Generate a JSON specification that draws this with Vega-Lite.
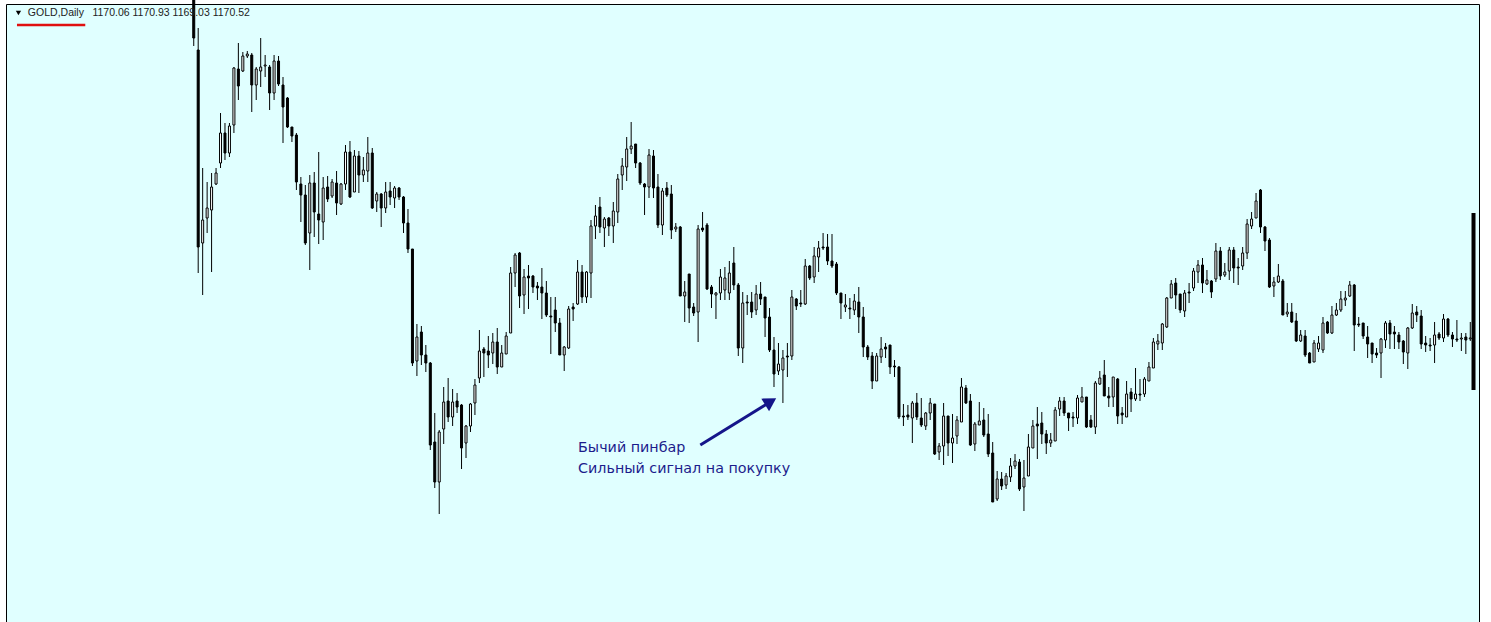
{
"$schema":"https://vega.github.io/schema/vega-lite/v6.json",
"width":1473,"height":622,
"autosize":{"type":"none"},
"padding":{"left":6,"top":4,"right":12,"bottom":0},
"background":"#ffffff",
"config":{"view":{"fill":"#E0FFFF","stroke":"#000000","strokeWidth":1},"axis":{"ticks":true}},
"datasets":{
"candles":[
{"i":0,"o":1341,"h":1343,"l":1316.5,"c":1320.5},
{"i":1,"o":1314.5,"h":1325.5,"l":1203,"c":1216},
{"i":2,"o":1218,"h":1255.5,"l":1192,"c":1229.5},
{"i":3,"o":1230.5,"h":1248.5,"l":1223,"c":1235.5},
{"i":4,"o":1234.5,"h":1253,"l":1203.5,"c":1246},
{"i":5,"o":1247.5,"h":1255.5,"l":1247,"c":1253},
{"i":6,"o":1258,"h":1283,"l":1255.5,"c":1273},
{"i":7,"o":1273,"h":1278,"l":1259.5,"c":1263},
{"i":8,"o":1263,"h":1278,"l":1261,"c":1276.5},
{"i":9,"o":1277,"h":1306,"l":1273,"c":1305.5},
{"i":10,"o":1305,"h":1318,"l":1289.5,"c":1296.5},
{"i":11,"o":1304,"h":1313.5,"l":1303.5,"c":1311.5},
{"i":12,"o":1311.5,"h":1314,"l":1310.5,"c":1312.5},
{"i":13,"o":1312,"h":1313,"l":1283.5,"c":1297},
{"i":14,"o":1297,"h":1306,"l":1289.5,"c":1305},
{"i":15,"o":1304,"h":1320.5,"l":1296,"c":1306},
{"i":16,"o":1306.5,"h":1312,"l":1301,"c":1307},
{"i":17,"o":1306,"h":1307,"l":1284.5,"c":1293},
{"i":18,"o":1293,"h":1312,"l":1289.5,"c":1309},
{"i":19,"o":1309,"h":1311.5,"l":1296.5,"c":1297.5},
{"i":20,"o":1297,"h":1301,"l":1268,"c":1286},
{"i":21,"o":1290.5,"h":1291,"l":1275.5,"c":1276},
{"i":22,"o":1276,"h":1276,"l":1268.5,"c":1271.5},
{"i":23,"o":1272,"h":1273,"l":1244.5,"c":1248.5},
{"i":24,"o":1247.5,"h":1251,"l":1228.5,"c":1242},
{"i":25,"o":1242,"h":1247,"l":1217,"c":1218},
{"i":26,"o":1223,"h":1252,"l":1204.5,"c":1248},
{"i":27,"o":1248,"h":1253.5,"l":1221,"c":1233.5},
{"i":28,"o":1232.5,"h":1263.5,"l":1217.5,"c":1229.5},
{"i":29,"o":1228.5,"h":1251,"l":1219.5,"c":1245.5},
{"i":30,"o":1246,"h":1251.5,"l":1238.5,"c":1240},
{"i":31,"o":1241.5,"h":1250,"l":1240.5,"c":1248.5},
{"i":32,"o":1248,"h":1254,"l":1232,"c":1238},
{"i":33,"o":1237.5,"h":1248,"l":1237,"c":1247.5},
{"i":34,"o":1247.5,"h":1267,"l":1244.5,"c":1263.5},
{"i":35,"o":1263.5,"h":1269,"l":1240.5,"c":1241},
{"i":36,"o":1243.5,"h":1264.5,"l":1243.5,"c":1261.5},
{"i":37,"o":1261.5,"h":1264,"l":1243,"c":1252},
{"i":38,"o":1252,"h":1261,"l":1248.5,"c":1254.5},
{"i":39,"o":1254,"h":1271,"l":1248.5,"c":1263},
{"i":40,"o":1263,"h":1265.5,"l":1235,"c":1235.5},
{"i":41,"o":1239,"h":1243.5,"l":1233.5,"c":1242.5},
{"i":42,"o":1242.5,"h":1243,"l":1226,"c":1235.5},
{"i":43,"o":1235.5,"h":1248.5,"l":1233,"c":1243.5},
{"i":44,"o":1244,"h":1248.5,"l":1237,"c":1241},
{"i":45,"o":1240.5,"h":1246.5,"l":1235.5,"c":1245.5},
{"i":46,"o":1245.5,"h":1246,"l":1239.5,"c":1241},
{"i":47,"o":1241,"h":1241.5,"l":1223,"c":1228},
{"i":48,"o":1228,"h":1235,"l":1213,"c":1215},
{"i":49,"o":1215,"h":1215,"l":1156.5,"c":1158},
{"i":50,"o":1159,"h":1177.5,"l":1151.5,"c":1171},
{"i":51,"o":1173.5,"h":1176.5,"l":1157,"c":1162},
{"i":52,"o":1162,"h":1167,"l":1153.5,"c":1158},
{"i":53,"o":1158,"h":1158.5,"l":1114.5,"c":1117},
{"i":54,"o":1118.5,"h":1133,"l":1095.5,"c":1098.5},
{"i":55,"o":1098.5,"h":1124.5,"l":1082.5,"c":1123.5},
{"i":56,"o":1125,"h":1146,"l":1117.5,"c":1138.5},
{"i":57,"o":1139,"h":1150.5,"l":1128.5,"c":1131},
{"i":58,"o":1131,"h":1145,"l":1126.5,"c":1138.5},
{"i":59,"o":1139,"h":1143,"l":1133,"c":1136},
{"i":60,"o":1137,"h":1137.5,"l":1105,"c":1115.5},
{"i":61,"o":1118,"h":1127,"l":1110.5,"c":1126.5},
{"i":62,"o":1126.5,"h":1138,"l":1123.5,"c":1137.5},
{"i":63,"o":1138,"h":1150,"l":1132,"c":1147},
{"i":64,"o":1150.5,"h":1174.5,"l":1148,"c":1164},
{"i":65,"o":1165,"h":1166,"l":1151,"c":1163},
{"i":66,"o":1164,"h":1171.5,"l":1155.5,"c":1162},
{"i":67,"o":1163,"h":1173,"l":1157.5,"c":1168.5},
{"i":68,"o":1168.5,"h":1175.5,"l":1152.5,"c":1156},
{"i":69,"o":1156,"h":1167,"l":1156,"c":1163},
{"i":70,"o":1162.5,"h":1173.5,"l":1162.5,"c":1171.5},
{"i":71,"o":1173,"h":1206,"l":1173,"c":1203},
{"i":72,"o":1203,"h":1213,"l":1196,"c":1212},
{"i":73,"o":1213,"h":1213.5,"l":1185.5,"c":1191.5},
{"i":74,"o":1192,"h":1205,"l":1182.5,"c":1201},
{"i":75,"o":1201.5,"h":1207,"l":1185,"c":1200.5},
{"i":76,"o":1201.5,"h":1202,"l":1193,"c":1196},
{"i":77,"o":1196.5,"h":1198.5,"l":1189.5,"c":1195.5},
{"i":78,"o":1196,"h":1205.5,"l":1180,"c":1193},
{"i":79,"o":1193,"h":1199,"l":1181,"c":1182},
{"i":80,"o":1181.5,"h":1191,"l":1162.5,"c":1181},
{"i":81,"o":1184.5,"h":1191,"l":1173.5,"c":1178},
{"i":82,"o":1178,"h":1180.5,"l":1162,"c":1162},
{"i":83,"o":1162,"h":1166.5,"l":1154,"c":1166},
{"i":84,"o":1165.5,"h":1186.5,"l":1165,"c":1185},
{"i":85,"o":1186,"h":1188,"l":1179,"c":1185},
{"i":86,"o":1187.5,"h":1209.5,"l":1187,"c":1203.5},
{"i":87,"o":1203.5,"h":1207,"l":1188,"c":1191},
{"i":88,"o":1191,"h":1204,"l":1188,"c":1203.5},
{"i":89,"o":1203,"h":1229.5,"l":1190.5,"c":1226.5},
{"i":90,"o":1226.5,"h":1237,"l":1220,"c":1231.5},
{"i":91,"o":1236,"h":1241,"l":1223,"c":1226},
{"i":92,"o":1225.5,"h":1231,"l":1216,"c":1230},
{"i":93,"o":1230.5,"h":1231,"l":1221.5,"c":1226.5},
{"i":94,"o":1226.5,"h":1238.5,"l":1218,"c":1234},
{"i":95,"o":1233.5,"h":1252.5,"l":1228,"c":1250},
{"i":96,"o":1252,"h":1260.5,"l":1244.5,"c":1256.5},
{"i":97,"o":1256,"h":1271,"l":1249,"c":1265},
{"i":98,"o":1265,"h":1278.5,"l":1262.5,"c":1266.5},
{"i":99,"o":1267.5,"h":1267.5,"l":1255.5,"c":1258},
{"i":100,"o":1258,"h":1258.5,"l":1247,"c":1248},
{"i":101,"o":1247.5,"h":1248,"l":1232,"c":1246},
{"i":102,"o":1246,"h":1265,"l":1240.5,"c":1262},
{"i":103,"o":1261.5,"h":1264.5,"l":1240.5,"c":1245.5},
{"i":104,"o":1246,"h":1252.5,"l":1225.5,"c":1227},
{"i":105,"o":1227,"h":1245.5,"l":1222,"c":1244},
{"i":106,"o":1245.5,"h":1248.5,"l":1241,"c":1242},
{"i":107,"o":1242.5,"h":1247,"l":1220,"c":1224.5},
{"i":108,"o":1225,"h":1228,"l":1223.5,"c":1226},
{"i":109,"o":1226,"h":1226.5,"l":1191.5,"c":1191.5},
{"i":110,"o":1191.5,"h":1199,"l":1178.5,"c":1193.5},
{"i":111,"o":1202.5,"h":1202.5,"l":1178,"c":1185.5},
{"i":112,"o":1186,"h":1188,"l":1181.5,"c":1183},
{"i":113,"o":1183.5,"h":1227,"l":1168.5,"c":1225},
{"i":114,"o":1225.5,"h":1233.5,"l":1223.5,"c":1224.5},
{"i":115,"o":1227,"h":1228,"l":1194.5,"c":1195},
{"i":116,"o":1196,"h":1197,"l":1185.5,"c":1192.5},
{"i":117,"o":1192,"h":1193.5,"l":1180,"c":1193},
{"i":118,"o":1193,"h":1205,"l":1189.5,"c":1201},
{"i":119,"o":1194.5,"h":1206,"l":1189.5,"c":1200.5},
{"i":120,"o":1193,"h":1209,"l":1189.5,"c":1203},
{"i":121,"o":1208,"h":1216,"l":1194.5,"c":1197},
{"i":122,"o":1197,"h":1198,"l":1161.5,"c":1165.5},
{"i":123,"o":1165.5,"h":1193.5,"l":1158,"c":1188},
{"i":124,"o":1188.5,"h":1192,"l":1182,"c":1188},
{"i":125,"o":1188.5,"h":1193.5,"l":1180.5,"c":1183.5},
{"i":126,"o":1184.5,"h":1197,"l":1182,"c":1192.5},
{"i":127,"o":1192.5,"h":1198.5,"l":1187,"c":1190},
{"i":128,"o":1191,"h":1191,"l":1171,"c":1180.5},
{"i":129,"o":1181,"h":1185.5,"l":1163.5,"c":1164.5},
{"i":130,"o":1164.5,"h":1171,"l":1146,"c":1152.5},
{"i":131,"o":1154,"h":1168,"l":1152,"c":1157.5},
{"i":132,"o":1154.5,"h":1164.5,"l":1138,"c":1160.5},
{"i":133,"o":1161.5,"h":1168,"l":1151,"c":1161},
{"i":134,"o":1161.5,"h":1194.5,"l":1159.5,"c":1191},
{"i":135,"o":1190,"h":1190.5,"l":1184.5,"c":1186.5},
{"i":136,"o":1188,"h":1194.5,"l":1186,"c":1187.5},
{"i":137,"o":1187.5,"h":1210,"l":1187,"c":1206.5},
{"i":138,"o":1206.5,"h":1207,"l":1199.5,"c":1200.5},
{"i":139,"o":1201,"h":1216,"l":1198,"c":1211.5},
{"i":140,"o":1211,"h":1219,"l":1203.5,"c":1215.5},
{"i":141,"o":1216,"h":1223,"l":1214.5,"c":1215.5},
{"i":142,"o":1216,"h":1222.5,"l":1207,"c":1209},
{"i":143,"o":1209,"h":1222.5,"l":1205.5,"c":1206.5},
{"i":144,"o":1207.5,"h":1208.5,"l":1192,"c":1193},
{"i":145,"o":1193,"h":1193,"l":1180,"c":1188},
{"i":146,"o":1186,"h":1192.5,"l":1183.5,"c":1187},
{"i":147,"o":1185.5,"h":1190.5,"l":1180,"c":1185},
{"i":148,"o":1184.5,"h":1192.5,"l":1182,"c":1189},
{"i":149,"o":1188.5,"h":1196,"l":1173,"c":1181},
{"i":150,"o":1181,"h":1186,"l":1161,"c":1166},
{"i":151,"o":1166,"h":1167,"l":1159.5,"c":1161},
{"i":152,"o":1161.5,"h":1163.5,"l":1145,"c":1149},
{"i":153,"o":1149,"h":1163,"l":1149,"c":1161.5},
{"i":154,"o":1161,"h":1171,"l":1158,"c":1165},
{"i":155,"o":1166,"h":1168,"l":1160.5,"c":1165},
{"i":156,"o":1167,"h":1167,"l":1152.5,"c":1156},
{"i":157,"o":1156.5,"h":1159.5,"l":1151,"c":1156},
{"i":158,"o":1156,"h":1156.5,"l":1130,"c":1131},
{"i":159,"o":1131.5,"h":1137.5,"l":1126.5,"c":1131},
{"i":160,"o":1132,"h":1137,"l":1129.5,"c":1131},
{"i":161,"o":1130.5,"h":1139,"l":1118,"c":1138},
{"i":162,"o":1138,"h":1143,"l":1129.5,"c":1131},
{"i":163,"o":1130.5,"h":1140.5,"l":1126,"c":1127},
{"i":164,"o":1126.5,"h":1133.5,"l":1124.5,"c":1133},
{"i":165,"o":1133,"h":1140.5,"l":1129.5,"c":1138},
{"i":166,"o":1137.5,"h":1137.5,"l":1112,"c":1112.5},
{"i":167,"o":1113.5,"h":1118,"l":1109.5,"c":1116.5},
{"i":168,"o":1116.5,"h":1138,"l":1107,"c":1131.5},
{"i":169,"o":1131.5,"h":1131.5,"l":1111.5,"c":1118},
{"i":170,"o":1118,"h":1132.5,"l":1108,"c":1120.5},
{"i":171,"o":1121.5,"h":1131.5,"l":1117.5,"c":1129.5},
{"i":172,"o":1128.5,"h":1150.5,"l":1128.5,"c":1146},
{"i":173,"o":1145.5,"h":1147,"l":1137.5,"c":1138},
{"i":174,"o":1139,"h":1142.5,"l":1116.5,"c":1117},
{"i":175,"o":1117.5,"h":1128.5,"l":1114,"c":1127.5},
{"i":176,"o":1127,"h":1138.5,"l":1127,"c":1129},
{"i":177,"o":1129.5,"h":1135.5,"l":1121,"c":1122},
{"i":178,"o":1122.5,"h":1132.5,"l":1111,"c":1112.5},
{"i":179,"o":1113,"h":1118.5,"l":1088.5,"c":1088.5},
{"i":180,"o":1090,"h":1104,"l":1089,"c":1100},
{"i":181,"o":1100,"h":1103.5,"l":1094.5,"c":1096.5},
{"i":182,"o":1097,"h":1103,"l":1095,"c":1101.5},
{"i":183,"o":1101,"h":1110.5,"l":1098.5,"c":1106.5},
{"i":184,"o":1106.5,"h":1112.5,"l":1105,"c":1109},
{"i":185,"o":1108.5,"h":1110,"l":1094,"c":1095},
{"i":186,"o":1096,"h":1109.5,"l":1084,"c":1100.5},
{"i":187,"o":1101.5,"h":1122.5,"l":1101.5,"c":1116},
{"i":188,"o":1115.5,"h":1129.5,"l":1115.5,"c":1126.5},
{"i":189,"o":1127.5,"h":1136,"l":1110,"c":1126.5},
{"i":190,"o":1128,"h":1133.5,"l":1117.5,"c":1122.5},
{"i":191,"o":1122.5,"h":1124.5,"l":1112.5,"c":1118},
{"i":192,"o":1118,"h":1123,"l":1116,"c":1119.5},
{"i":193,"o":1119,"h":1136,"l":1119,"c":1134.5},
{"i":194,"o":1135,"h":1141,"l":1131.5,"c":1139},
{"i":195,"o":1139,"h":1141,"l":1131.5,"c":1133},
{"i":196,"o":1133,"h":1133,"l":1124,"c":1130.5},
{"i":197,"o":1131,"h":1133.5,"l":1126,"c":1130.5},
{"i":198,"o":1130.5,"h":1142,"l":1127.5,"c":1140.5},
{"i":199,"o":1138.5,"h":1146,"l":1138.5,"c":1141},
{"i":200,"o":1141,"h":1141,"l":1125.5,"c":1126},
{"i":201,"o":1129.5,"h":1132,"l":1125.5,"c":1126},
{"i":202,"o":1126,"h":1149,"l":1122.5,"c":1148},
{"i":203,"o":1147.5,"h":1154,"l":1147,"c":1150.5},
{"i":204,"o":1152,"h":1159.5,"l":1141.5,"c":1141.5},
{"i":205,"o":1141.5,"h":1146,"l":1136,"c":1140.5},
{"i":206,"o":1141,"h":1151,"l":1136,"c":1151},
{"i":207,"o":1150,"h":1150.5,"l":1127.5,"c":1131.5},
{"i":208,"o":1133,"h":1136,"l":1127.5,"c":1132},
{"i":209,"o":1131,"h":1149,"l":1131,"c":1142.5},
{"i":210,"o":1143.5,"h":1145.5,"l":1133.5,"c":1140},
{"i":211,"o":1140,"h":1155.5,"l":1139,"c":1142.5},
{"i":212,"o":1142.5,"h":1150,"l":1139,"c":1142},
{"i":213,"o":1142.5,"h":1151,"l":1141,"c":1150},
{"i":214,"o":1149,"h":1158.5,"l":1149,"c":1156},
{"i":215,"o":1155.5,"h":1170.5,"l":1155.5,"c":1168.5},
{"i":216,"o":1167.5,"h":1172.5,"l":1164.5,"c":1169},
{"i":217,"o":1168,"h":1178,"l":1164.5,"c":1177.5},
{"i":218,"o":1176,"h":1191,"l":1175.5,"c":1190.5},
{"i":219,"o":1190.5,"h":1199.5,"l":1190.5,"c":1197.5},
{"i":220,"o":1198,"h":1200.5,"l":1185,"c":1192},
{"i":221,"o":1192.5,"h":1192.5,"l":1183,"c":1184.5},
{"i":222,"o":1184,"h":1194.5,"l":1181,"c":1193},
{"i":223,"o":1193.5,"h":1198,"l":1188,"c":1193},
{"i":224,"o":1195.5,"h":1205.5,"l":1194,"c":1204},
{"i":225,"o":1203.5,"h":1209.5,"l":1198,"c":1207},
{"i":226,"o":1207,"h":1210.5,"l":1193,"c":1198},
{"i":227,"o":1197.5,"h":1204.5,"l":1197,"c":1199.5},
{"i":228,"o":1199,"h":1199.5,"l":1190.5,"c":1193.5},
{"i":229,"o":1200,"h":1218,"l":1198.5,"c":1214},
{"i":230,"o":1214,"h":1216,"l":1199.5,"c":1201.5},
{"i":231,"o":1202,"h":1208,"l":1201,"c":1203.5},
{"i":232,"o":1204,"h":1216,"l":1199.5,"c":1214.5},
{"i":233,"o":1214.5,"h":1216,"l":1198,"c":1205.5},
{"i":234,"o":1206,"h":1210.5,"l":1197,"c":1205.5},
{"i":235,"o":1206.5,"h":1216,"l":1204.5,"c":1213},
{"i":236,"o":1213,"h":1230,"l":1210,"c":1227.5},
{"i":237,"o":1226.5,"h":1233.5,"l":1225,"c":1230},
{"i":238,"o":1230.5,"h":1243,"l":1230.5,"c":1239},
{"i":239,"o":1244.5,"h":1245,"l":1223,"c":1226},
{"i":240,"o":1226,"h":1226.5,"l":1214,"c":1219},
{"i":241,"o":1219.5,"h":1220.5,"l":1195.5,"c":1196},
{"i":242,"o":1196.5,"h":1201,"l":1191,"c":1198.5},
{"i":243,"o":1198.5,"h":1207.5,"l":1198,"c":1201.5},
{"i":244,"o":1199,"h":1200,"l":1182,"c":1182},
{"i":245,"o":1182.5,"h":1188,"l":1181,"c":1183.5},
{"i":246,"o":1183.5,"h":1188,"l":1178,"c":1178.5},
{"i":247,"o":1179,"h":1183,"l":1168.5,"c":1169},
{"i":248,"o":1169,"h":1174.5,"l":1168.5,"c":1172},
{"i":249,"o":1171.5,"h":1174.5,"l":1161,"c":1162},
{"i":250,"o":1163,"h":1163.5,"l":1158,"c":1158},
{"i":251,"o":1158.5,"h":1169.5,"l":1158.5,"c":1168},
{"i":252,"o":1165,"h":1171.5,"l":1163.5,"c":1168},
{"i":253,"o":1164.5,"h":1181,"l":1163,"c":1178},
{"i":254,"o":1178.5,"h":1179,"l":1172.5,"c":1173},
{"i":255,"o":1173,"h":1186.5,"l":1172.5,"c":1182},
{"i":256,"o":1182,"h":1188,"l":1181.5,"c":1184.5},
{"i":257,"o":1184.5,"h":1194,"l":1183.5,"c":1190},
{"i":258,"o":1189.5,"h":1194,"l":1186.5,"c":1190.5},
{"i":259,"o":1191.5,"h":1199,"l":1191,"c":1197},
{"i":260,"o":1197,"h":1197.5,"l":1164,"c":1177},
{"i":261,"o":1177.5,"h":1181,"l":1176,"c":1177},
{"i":262,"o":1178,"h":1178,"l":1170,"c":1171.5},
{"i":263,"o":1171,"h":1176.5,"l":1160.5,"c":1167.5},
{"i":264,"o":1168,"h":1168,"l":1158,"c":1162.5},
{"i":265,"o":1163,"h":1165.5,"l":1160.5,"c":1162},
{"i":266,"o":1163,"h":1170.5,"l":1150.5,"c":1170},
{"i":267,"o":1169.5,"h":1179,"l":1165.5,"c":1178},
{"i":268,"o":1178,"h":1179.5,"l":1165,"c":1172.5},
{"i":269,"o":1173.5,"h":1176.5,"l":1165,"c":1172.5},
{"i":270,"o":1172,"h":1173.5,"l":1165,"c":1168.5},
{"i":271,"o":1169,"h":1169.5,"l":1157.5,"c":1163.5},
{"i":272,"o":1163,"h":1176,"l":1155,"c":1175.5},
{"i":273,"o":1175.5,"h":1187.5,"l":1175,"c":1183},
{"i":274,"o":1183.5,"h":1186.5,"l":1178.5,"c":1182},
{"i":275,"o":1181.5,"h":1184.5,"l":1165,"c":1167.5},
{"i":276,"o":1168,"h":1171.5,"l":1163.5,"c":1167},
{"i":277,"o":1167,"h":1170.5,"l":1164,"c":1166.5},
{"i":278,"o":1167,"h":1178.5,"l":1158,"c":1172},
{"i":279,"o":1172.5,"h":1173.5,"l":1169.5,"c":1170.5},
{"i":280,"o":1170.5,"h":1182.5,"l":1168.5,"c":1180},
{"i":281,"o":1180,"h":1180.5,"l":1171,"c":1172},
{"i":282,"o":1172,"h":1173.5,"l":1166,"c":1170},
{"i":283,"o":1170,"h":1179.5,"l":1168.5,"c":1169.5},
{"i":284,"o":1170,"h":1173,"l":1164,"c":1170.5},
{"i":285,"o":1171,"h":1173,"l":1162.5,"c":1169.5},
{"i":286,"o":1170.06,"h":1178.5,"l":1169.03,"c":1170.52}
],
"edge":[{"i":286.72,"top":1233,"bottom":1144.5}],
"arrow":[{"i":113.5,"i2":129.5,"p":1117,"p2":1139}],
"head":[{"i":129.26,"p":1138.7}],
"notes":[{"i":86.1,"p":1115.5,"t":"Бычий пинбар"},{"i":86.1,"p":1105,"t":"Сильный сигнал на покупку"}],
"hdr":[{"i":-37.16,"p":1333,"t":"GOLD,Daily"},{"i":-22.7,"p":1333,"t":"1170.06 1170.93 1169.03 1170.52"}],
"tri":[{"i":-39.27,"p":1333}],
"underline":[{"i":-39.6,"i2":-24.3,"p":1327}]
},
"encoding":{"x":{"field":"i","type":"quantitative","scale":{"domain":[-40.94,286.83],"nice":false,"zero":false},"axis":null}},
"layer":[
{"data":{"name":"candles"},"mark":{"type":"rule","color":"#000000","strokeWidth":1},
 "encoding":{"y":{"field":"l","type":"quantitative","scale":{"domain":[1026.5,1337.5],"nice":false,"zero":false},
   "axis":{"orient":"right","values":[1327.5,1311.85,1296.2,1280.55,1264.9,1249.25,1233.6,1217.95,1202.3,1186.65,1171,1155.35,1139.7,1124.05,1108.4,1092.75,1077.1,1061.45,1045.8,1030.15],"labels":true,"labelColor":"#ffffff","labelFontSize":1,"labelOpacity":0,"ticks":true,"tickSize":5,"tickColor":"#000000","tickWidth":1,"tickOpacity":1,"domain":true,"domainColor":"#000000","domainWidth":1,"grid":false,"title":null,"zindex":1}},
  "y2":{"field":"h"}}},
{"data":{"name":"candles"},"mark":{"type":"bar","size":2,"stroke":"#000000","strokeWidth":1},
 "encoding":{"y":{"field":"o","type":"quantitative","scale":{"domain":[1026.5,1337.5],"nice":false,"zero":false},"axis":null},
  "y2":{"field":"c"},
  "fill":{"condition":{"test":"datum.c > datum.o","value":"#ffffff"},"value":"#000000"}}},
{"data":{"name":"edge"},"mark":{"type":"bar","size":4,"color":"#000000"},
 "encoding":{"y":{"field":"top","type":"quantitative","scale":{"domain":[1026.5,1337.5],"nice":false,"zero":false},"axis":null},"y2":{"field":"bottom"}}},
{"data":{"name":"arrow"},"mark":{"type":"rule","color":"#15158a","strokeWidth":3},
 "encoding":{"x2":{"field":"i2"},"y":{"field":"p","type":"quantitative","scale":{"domain":[1026.5,1337.5],"nice":false,"zero":false},"axis":null},"y2":{"field":"p2"}}},
{"data":{"name":"head"},"mark":{"type":"point","shape":"triangle-up","angle":58.5,"size":220,"filled":true,"color":"#15158a","opacity":1},
 "encoding":{"y":{"field":"p","type":"quantitative","scale":{"domain":[1026.5,1337.5],"nice":false,"zero":false},"axis":null}}},
{"data":{"name":"notes"},"mark":{"type":"text","align":"left","baseline":"middle","font":"DejaVu Sans","fontSize":14.3,"color":"#1c1c8c"},
 "encoding":{"y":{"field":"p","type":"quantitative","scale":{"domain":[1026.5,1337.5],"nice":false,"zero":false},"axis":null},"text":{"field":"t"}}},
{"data":{"name":"hdr"},"mark":{"type":"text","align":"left","baseline":"middle","font":"Liberation Sans","fontSize":10.5,"color":"#222222"},
 "encoding":{"y":{"field":"p","type":"quantitative","scale":{"domain":[1026.5,1337.5],"nice":false,"zero":false},"axis":null},"text":{"field":"t"}}},
{"data":{"name":"tri"},"mark":{"type":"point","shape":"triangle-down","size":28,"filled":true,"color":"#000000","opacity":1},
 "encoding":{"y":{"field":"p","type":"quantitative","scale":{"domain":[1026.5,1337.5],"nice":false,"zero":false},"axis":null}}},
{"data":{"name":"underline"},"mark":{"type":"rule","color":"#e01010","strokeWidth":2.5},
 "encoding":{"x2":{"field":"i2"},"y":{"field":"p","type":"quantitative","scale":{"domain":[1026.5,1337.5],"nice":false,"zero":false},"axis":null}}}
]
}
